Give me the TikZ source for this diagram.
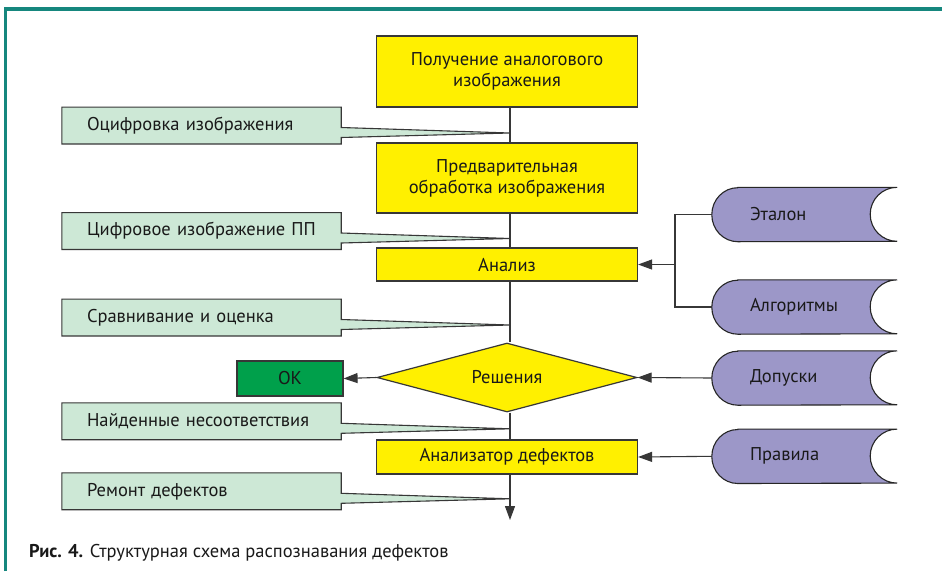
\documentclass[tikz,border=0pt]{standalone}
\usepackage{fontspec}
\setmainfont{PT Sans}
\usetikzlibrary{shapes.geometric,arrows.meta,calc,backgrounds}
\definecolor{frameteal}{RGB}{22,135,126}
\definecolor{boxyellow}{RGB}{255,240,0}
\definecolor{callgreen}{RGB}{205,232,214}
\definecolor{dbpurple}{RGB}{156,151,200}
\definecolor{okgreen}{RGB}{0,160,75}
\definecolor{linegray}{RGB}{55,55,55}
\tikzset{
  x=1pt, y=1pt,
  every node/.style={font=\fontsize{18.5}{21}\selectfont, text=black!90},
  ybox/.style={draw=linegray, line width=1.2pt, fill=boxyellow, minimum width=261pt, inner sep=0pt, align=center},
  ydia/.style={diamond, shape aspect=3.77, draw=linegray, line width=1.2pt, fill=boxyellow, minimum width=260pt, minimum height=69pt, inner sep=0pt},
  callbox/.style={minimum width=279pt, minimum height=36.5pt, text width=229pt, inner xsep=25pt, inner ysep=0pt, align=left},
  callshape/.style={draw=linegray, line width=1.1pt, fill=callgreen},
  dbbox/.style={minimum width=185pt, minimum height=54pt, text width=109pt, inner xsep=38pt, inner ysep=0pt, align=left},
  dbshape/.style={draw=black!85, line width=1.1pt, fill=dbpurple},
  conn/.style={draw=linegray, line width=1.1pt},
  arr/.style={conn, -{Triangle[length=14pt, width=10pt]}},
}
\newcommand{\mycallout}[3]{% name, center y, text
  \node[callbox] (#1) at (201.5,-#2) {#3};
  \coordinate (#1tip) at (510,-#2-7.5);
  \begin{scope}[on background layer]
    \path[callshape] (#1.north west) -- (#1.north east) -- ($(#1.east)+(0,-2)$) -- (#1tip) -- ($(#1.east)+(0,-12)$) -- (#1.south east) -- (#1.south west) -- cycle;
  \end{scope}
}
\newcommand{\mydb}[3]{% name, center y, text
  \node[dbbox] (#1) at (804.5,-#2) {#3};
  \begin{scope}[on background layer]
    \path[dbshape] ($(#1.north west)+(26,0)$) -- (#1.north east)
      arc[start angle=90, end angle=270, x radius=27pt, y radius=27pt]
      -- ($(#1.south west)+(26,0)$)
      arc[start angle=270, end angle=90, x radius=26pt, y radius=27pt] -- cycle;
  \end{scope}
}
\begin{document}
\begin{tikzpicture}
\begin{scope}[on background layer]
  \fill[white] (0,0) rectangle (942,-571);
\end{scope}
\path[use as bounding box] (0,0) rectangle (942,-571);
% frame
\draw[frameteal, line width=3.3pt] (5.7,-571) -- (5.7,-9) -- (942,-9);

% main column
\coordinate (axis) at (510,0);
\node[ybox, minimum height=71pt] (b1) at (507,-71.5) {Получение аналогового\\изображения};
\node[ybox, minimum height=70pt] (b2) at (507,-178) {Предварительная\\обработка изображения};
\node[ybox, minimum height=33pt] (b3) at (507,-264.5) {Анализ};
\node[ydia] (d1) at (507,-377.5) {Решения};
\node[ybox, minimum height=34pt] (b4) at (507,-457) {Анализатор дефектов};
\node[draw=linegray, line width=1.2pt, fill=okgreen, minimum width=106pt, minimum height=35pt] (ok) at (290,-378.5) {OK};
\coordinate (end) at (510,-520);

\draw[conn] (b1.south -| axis) -- (b2.north -| axis);
\draw[conn] (b2.south -| axis) -- (b3.north -| axis);
\draw[conn] (b3.south -| axis) -- (d1.north -| axis);
\draw[conn] (d1.south -| axis) -- (b4.north -| axis);
\draw[arr] (b4.south -| axis) -- (end);
\draw[arr] (d1.west) -- (ok.east);

% callouts
\mycallout{c1}{125.5}{Оцифровка изображения}
\mycallout{c2}{231}{Цифровое изображение ПП}
\mycallout{c3}{317.5}{Сравнивание и оценка}
\mycallout{c4}{421.3}{Найденные несоответствия}
\mycallout{c5}{491.3}{Ремонт дефектов}

% databases
\mydb{e1}{214.5}{Эталон}
\mydb{e2}{307}{Алгоритмы}
\mydb{e3}{378}{Допуски}
\mydb{e4}{456.3}{Правила}

\coordinate (brk) at (675,-264.5);
\draw[conn] (e1.west) -| (brk) |- (e2.west);
\draw[arr] (brk) -- (b3.east);
\draw[arr] (e3.west) -- (d1.east);
\draw[arr] (e4.west) -- (b4.east);

% caption
\node[anchor=base west, inner sep=0pt] (cap) at (29,-557) {\textbf{Рис. 4.} Структурная схема распознавания дефектов};
\end{tikzpicture}
\end{document}
